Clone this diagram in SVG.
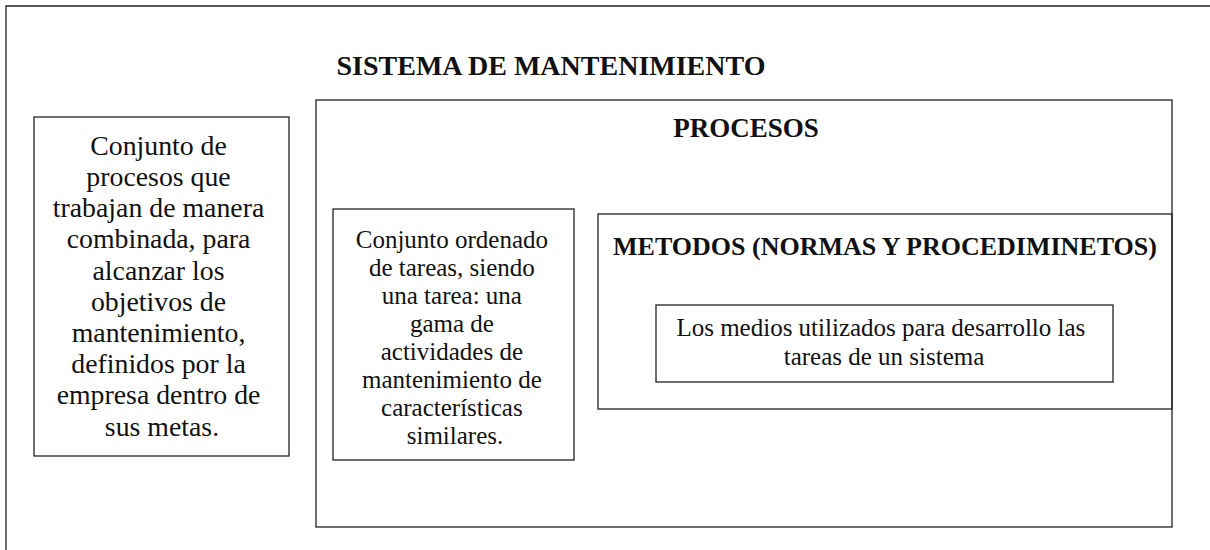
<svg xmlns="http://www.w3.org/2000/svg" width="1210" height="550" viewBox="0 0 1210 550">
<style>
.box{fill:none;stroke:#222;stroke-width:1.3}
.t{font-family:"Liberation Serif","Times New Roman",serif;fill:#111;text-anchor:middle}
.b{font-weight:bold}
.l{font-size:27.8px}
.m{font-size:25px}
.s{font-size:25px}
</style>
<rect width="1210" height="550" fill="#fff"/>
<g id="sistema">
<path class="box" d="M6 550 V6 H1210" stroke-width="2"/>
<text class="t b" x="551" y="75" font-size="28">SISTEMA DE MANTENIMIENTO</text>
</g>
<g id="definicion-sistema">
<rect class="box" x="34" y="117" width="255" height="339"/>
<text class="t l">
<tspan x="162" y="155">Conjunto de</tspan>
<tspan x="162" y="186">procesos que</tspan>
<tspan x="162" y="217">trabajan de manera</tspan>
<tspan x="162" y="248">combinada, para</tspan>
<tspan x="162" y="280">alcanzar los</tspan>
<tspan x="162" y="311">objetivos de</tspan>
<tspan x="162" y="342">mantenimiento,</tspan>
<tspan x="162" y="373">definidos por la</tspan>
<tspan x="162" y="404">empresa dentro de</tspan>
<tspan x="162" y="436">sus metas.</tspan>
</text>
</g>
<g id="procesos">
<rect class="box" x="316" y="100" width="856" height="427"/>
<text class="t b" x="746" y="137" font-size="27">PROCESOS</text>
</g>
<g id="definicion-procesos">
<rect class="box" x="333" y="209" width="241" height="251"/>
<text class="t m">
<tspan x="455" y="248">Conjunto ordenado</tspan>
<tspan x="455" y="276">de tareas, siendo</tspan>
<tspan x="455" y="304">una tarea: una</tspan>
<tspan x="455" y="332">gama de</tspan>
<tspan x="455" y="360">actividades de</tspan>
<tspan x="455" y="388">mantenimiento de</tspan>
<tspan x="455" y="416">características</tspan>
<tspan x="455" y="444">similares.</tspan>
</text>
</g>
<g id="metodos">
<rect class="box" x="598" y="214" width="574" height="195"/>
<text class="t b" x="885" y="255" font-size="26">METODOS (NORMAS Y PROCEDIMINETOS)</text>
</g>
<g id="definicion-metodos">
<rect class="box" x="656" y="305" width="457" height="77"/>
<text class="t s">
<tspan x="884" y="336">Los medios utilizados para desarrollo las</tspan>
<tspan x="884" y="365">tareas de un sistema</tspan>
</text>
</g>
<g id="connectors"></g>
</svg>
